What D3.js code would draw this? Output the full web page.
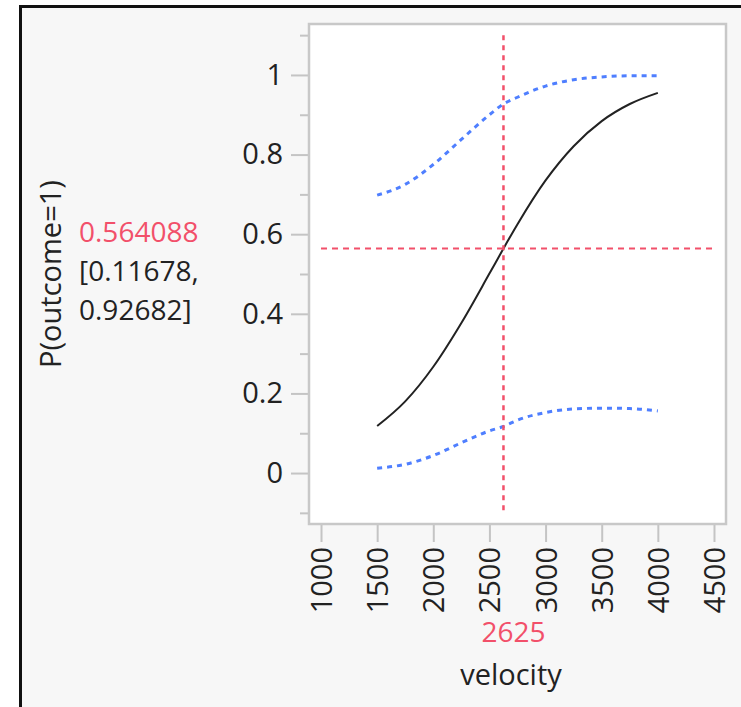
<!DOCTYPE html>
<html>
<head>
<meta charset="utf-8">
<script src="https://cdn.jsdelivr.net/npm/d3@7"></script>
<style>
  body { margin: 0; background: #ffffff; }
  text { font-family: "Open Sans", "Noto Sans", sans-serif; }
</style>
</head>
<body>
<script>
// profiler for P(outcome=1) vs velocity

var width = 741;
var height = 707;

// data
var velocity  = [1500, 1750, 2000, 2250, 2500, 2625, 2750, 3000, 3250, 3500, 3750, 4000];
var prob      = [0.118, 0.180, 0.267, 0.377, 0.501, 0.564, 0.625, 0.735, 0.821, 0.884, 0.927, 0.955];
var upperCI   = [0.698, 0.725, 0.775, 0.838, 0.900, 0.927, 0.944, 0.972, 0.988, 0.995, 0.998, 0.998];
var lowerCI   = [0.012, 0.022, 0.044, 0.076, 0.106, 0.117, 0.133, 0.152, 0.161, 0.163, 0.162, 0.156];

var xTicks = [1000, 1500, 2000, 2500, 3000, 3500, 4000, 4500];
var yTicks = [0, 0.2, 0.4, 0.6, 0.8, 1];
var yMinor = [-0.1, 0.1, 0.3, 0.5, 0.7, 0.9, 1.1];

var currentX = 2625;
var currentY = 0.564088;
var ciText = ["[0.11678,", "0.92682]"];

var svg = d3.select("body").append("svg")
    .attr("width", width)
    .attr("height", height);

// outer panel
svg.append("rect")
    .attr("x", 20.5)
    .attr("y", 6.5)
    .attr("width", 760)
    .attr("height", 760)
    .attr("fill", "#f7f7f7")
    .attr("stroke", "#111111")
    .attr("stroke-width", 3);

var plotLeft = 309, plotRight = 726, plotTop = 24, plotBottom = 524;

var x = d3.scaleLinear().domain([893, 4607]).range([plotLeft, plotRight]);
var y = d3.scaleLinear().domain([-0.128, 1.128]).range([plotBottom, plotTop]);

// plot background
svg.append("rect")
    .attr("x", plotLeft)
    .attr("y", plotTop)
    .attr("width", plotRight - plotLeft)
    .attr("height", plotBottom - plotTop)
    .attr("fill", "#ffffff");

// y axis
svg.append("g")
    .attr("transform", "translate(" + plotLeft + ",0)")
    .call(d3.axisLeft(y).tickValues(yTicks).tickSize(18).tickPadding(8)
        .tickFormat(function(d) { return d3.format("")(+d.toFixed(1)); }));

svg.append("g")
    .attr("transform", "translate(" + plotLeft + ",0)")
    .call(d3.axisLeft(y).tickValues(yMinor).tickSize(9).tickFormat(""));

// x axis
var xAxis = svg.append("g")
    .attr("transform", "translate(0," + plotBottom + ")")
    .call(d3.axisBottom(x).tickValues(xTicks).tickSize(18).tickFormat(d3.format("d")));

xAxis.selectAll(".tick text")
    .attr("transform", "rotate(-90)")
    .attr("x", -23)
    .attr("y", 0)
    .attr("dy", "0.36em")
    .attr("text-anchor", "end");

svg.selectAll(".domain").remove();
svg.selectAll(".tick line")
    .attr("stroke", "#c4c4c4")
    .attr("stroke-width", 2);
svg.selectAll(".tick text")
    .attr("font-size", 29)
    .attr("fill", "#222222")
    .style("font-family", "'Open Sans', sans-serif");

// plot frame
svg.append("rect")
    .attr("x", plotLeft)
    .attr("y", plotTop)
    .attr("width", plotRight - plotLeft)
    .attr("height", plotBottom - plotTop)
    .attr("fill", "none")
    .attr("stroke", "#c8c8c8")
    .attr("stroke-width", 2.5);

// curves
var rows = velocity.map(function(v, i) {
    return { v: v, p: prob[i], hi: upperCI[i], lo: lowerCI[i] };
});

function curve(key) {
    return d3.line()
        .x(function(d) { return x(d.v); })
        .y(function(d) { return y(d[key]); })
        .curve(d3.curveMonotoneX);
}

svg.append("path")
    .datum(rows)
    .attr("d", curve("hi"))
    .attr("fill", "none")
    .attr("stroke", "#4f7fff")
    .attr("stroke-width", 3)
    .attr("stroke-dasharray", "5,5");

svg.append("path")
    .datum(rows)
    .attr("d", curve("lo"))
    .attr("fill", "none")
    .attr("stroke", "#4f7fff")
    .attr("stroke-width", 3)
    .attr("stroke-dasharray", "5,5");

svg.append("path")
    .datum(rows)
    .attr("d", curve("p"))
    .attr("fill", "none")
    .attr("stroke", "#222222")
    .attr("stroke-width", 2);

// crosshair
svg.append("line")
    .attr("x1", x(currentX)).attr("x2", x(currentX))
    .attr("y1", y(1.1)).attr("y2", y(-0.1))
    .attr("stroke", "#f2506a")
    .attr("stroke-width", 2.5)
    .attr("stroke-dasharray", "5,5");

svg.append("line")
    .attr("x1", x(1000)).attr("x2", x(4500))
    .attr("y1", y(currentY)).attr("y2", y(currentY))
    .attr("stroke", "#f2506a")
    .attr("stroke-width", 2)
    .attr("stroke-dasharray", "6,5");

// labels
svg.append("text")
    .attr("transform", "translate(61," + y(0.5) + ") rotate(-90)")
    .attr("text-anchor", "middle")
    .attr("font-size", 29)
    .attr("fill", "#222222")
    .text("P(outcome=1)");

svg.append("text")
    .attr("x", 79)
    .attr("y", 242)
    .attr("font-size", 28)
    .attr("fill", "#f2506a")
    .text(d3.format(".6f")(currentY));

svg.selectAll(".ci")
    .data(ciText)
    .enter().append("text")
    .attr("x", 79)
    .attr("y", function(d, i) { return 281 + i * 39; })
    .attr("font-size", 28)
    .attr("fill", "#222222")
    .text(function(d) { return d; });

svg.append("text")
    .attr("x", x(currentX) + 10)
    .attr("y", 642)
    .attr("text-anchor", "middle")
    .attr("font-size", 28)
    .attr("fill", "#f2506a")
    .text(currentX);

svg.append("text")
    .attr("x", 511)
    .attr("y", 685)
    .attr("text-anchor", "middle")
    .attr("font-size", 29)
    .attr("fill", "#222222")
    .text("velocity");
</script>
</body>
</html>
